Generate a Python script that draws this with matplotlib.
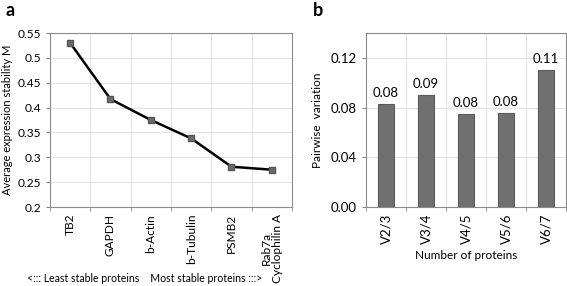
import matplotlib.pyplot as plt
import numpy as np

plt.rcParams['font.family'] = ['Lato', 'DejaVu Sans']

# panel a data
genes = ['TB2', 'GAPDH', 'b-Actin', 'b-Tubulin', 'PSMB2', 'Rab7a\nCyclophilin A']
stability_m = [0.530, 0.417, 0.375, 0.338, 0.281, 0.275]

# panel b data
pairs = ['V2/3', 'V3/4', 'V4/5', 'V5/6', 'V6/7']
pairwise_v = [0.083, 0.090, 0.075, 0.076, 0.110]
bar_labels = ['0.08', '0.09', '0.08', '0.08', '0.11']

fig = plt.figure(figsize=(5.67, 2.86), dpi=100)
W, H = 567, 286
axa = fig.add_axes([50 / W, 1 - 207 / H, 242 / W, 174 / H])
axb = fig.add_axes([366 / W, 1 - 207 / H, 200 / W, 174 / H])

grid_c = '#e4e4e4'
spine_c = '#8c8c8c'
fa = 8.6
fb = 9.5

# ---- panel a
x = np.arange(len(genes))
axa.plot(x, stability_m, color='black', lw=1.8, marker='s', ms=5,
         mfc='#6b6b6b', mec='#555555', zorder=3)
axa.set_xlim(-0.5, len(genes) - 0.5)
axa.set_ylim(0.2, 0.55)
axa.set_yticks(np.arange(0.2, 0.551, 0.05))
axa.set_yticklabels(['0.2', '0.25', '0.3', '0.35', '0.4', '0.45', '0.5', '0.55'])
axa.set_xticks(x)
axa.set_xticklabels(genes, rotation=90, fontsize=fa, linespacing=1.05)
axa.tick_params(axis='x', length=0, pad=5)
axa.set_xticks(np.arange(-0.5, len(genes)), minor=True)
axa.tick_params(axis='x', which='minor', length=3, color=spine_c)
axa.tick_params(axis='y', labelsize=fa, length=3, color=spine_c)
axa.grid(True, axis='y', color=grid_c, lw=0.8)
axa.grid(True, axis='x', which='minor', color=grid_c, lw=0.8)
axa.set_axisbelow(True)
axa.set_ylabel('Average expression stability M', fontsize=8, labelpad=3)
for s in axa.spines.values():
    s.set_color(spine_c)
fig.text(145 / W, 1 - 278 / H, '<::: Least stable proteins    Most stable proteins :::>',
         ha='center', va='center', fontsize=7.6)

# ---- panel b
xb = np.arange(len(pairs))
bars = axb.bar(xb, pairwise_v, width=0.38, color='#707070', edgecolor='#5a5a5a',
               lw=0.8, zorder=3)
for b, lab in zip(bars, bar_labels):
    axb.text(b.get_x() + b.get_width() / 2, b.get_height() + 0.004, lab,
             ha='center', va='bottom', fontsize=fb)
axb.set_xlim(-0.5, len(pairs) - 0.5)
axb.set_ylim(0, 0.14)
axb.set_yticks([0, 0.04, 0.08, 0.12])
axb.set_yticklabels(['0.00', '0.04', '0.08', '0.12'])
axb.set_xticks(xb)
axb.set_xticklabels(pairs, rotation=90, fontsize=fb)
axb.tick_params(axis='x', length=0, pad=5)
axb.set_xticks(np.arange(-0.5, len(pairs)), minor=True)
axb.tick_params(axis='x', which='minor', length=3, color=spine_c)
axb.tick_params(axis='y', labelsize=fb, length=3, color=spine_c)
axb.grid(True, axis='y', color=grid_c, lw=0.8)
axb.grid(True, axis='x', which='minor', color=grid_c, lw=0.8)
axb.set_axisbelow(True)
axb.set_ylabel('Pairwise  variation', fontsize=8.5, labelpad=6)
axb.set_xlabel('Number of proteins', fontsize=8.5, labelpad=4)
for s in axb.spines.values():
    s.set_color(spine_c)

fig.text(5 / W, 1 - 10 / H, 'a', fontsize=13, fontweight='bold', va='center')
fig.text(313 / W, 1 - 10 / H, 'b', fontsize=13, fontweight='bold', va='center')

fig.savefig('out.png', dpi=100)
